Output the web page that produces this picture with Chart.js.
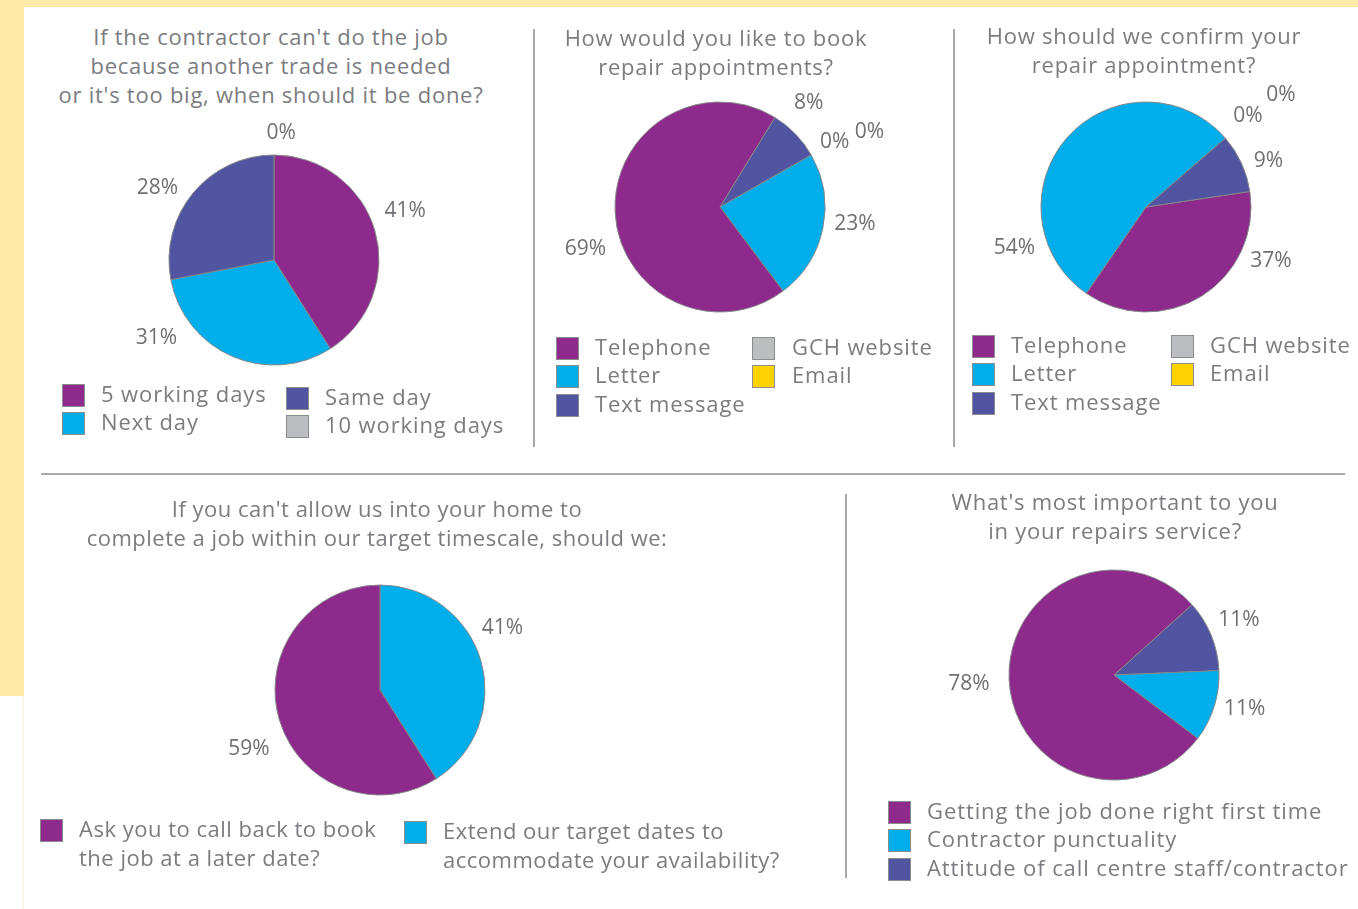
<!DOCTYPE html>
<html>
<head>
<meta charset="utf-8">
<script src="https://cdn.jsdelivr.net/npm/chart.js@4/dist/chart.umd.min.js"></script>
<style>
body { margin: 0; width: 1358px; height: 909px; position: relative; overflow: hidden; background: #fff; font-family: 'Open Sans', sans-serif; color: #7b7c7f; }
.band { position: absolute; background: #ffe9a6; }
.rule { position: absolute; background: #a9a9ab; }
.title { position: absolute; font-size: 22px; line-height: 29px; letter-spacing: 0.75px; text-align: center; white-space: nowrap; transform: translateX(-50%); }
.sw { position: absolute; width: 21px; height: 21px; border: 1px solid #8b8c8e; }
.lt { position: absolute; font-size: 22px; line-height: 29px; letter-spacing: 0.9px; white-space: nowrap; }
.narrow { letter-spacing: 0.5px; }
canvas { position: absolute; }
</style>
</head>
<body>
<div class="band" style="left:0;top:0;width:1358px;height:7px"></div>
<div class="band" style="left:0;top:0;width:24px;height:696px"></div>
<div class="band" style="left:23px;top:696px;width:1px;height:213px;opacity:0.6"></div>

<div class="rule" style="left:533px;top:29px;width:2px;height:418px"></div>
<div class="rule" style="left:953px;top:29px;width:2px;height:418px"></div>
<div class="rule" style="left:41px;top:473px;width:1304px;height:2px"></div>
<div class="rule" style="left:845px;top:494px;width:2px;height:384px"></div>

<canvas id="pieWhen" width="420" height="300"></canvas>
<canvas id="pieBook" width="420" height="300"></canvas>
<canvas id="pieConfirm" width="420" height="300"></canvas>
<canvas id="pieAccess" width="420" height="300"></canvas>
<canvas id="pieImportant" width="420" height="300"></canvas>

<script>
// Colours used across all five surveys
const purple = '#8e2a8b';
const cyan = '#00aeeb';
const violet = '#5154a0';
const grey = '#bcbdc0';
const yellow = '#ffd200';

// Q1 - another trade needed
const whenTitle = ["If the contractor can't do the job", 'because another trade is needed', "or it's too big, when should it be done?"];
const whenLabels = ['5 working days', 'Next day', 'Same day', '10 working days'];
const whenValues = [41, 31, 28, 0];

// Q2 - booking
const bookTitle = ['How would you like to book', 'repair appointments?'];
const bookLabels = ['Telephone', 'Letter', 'Text message', 'GCH website', 'Email'];
const bookValues = [69, 23, 8, 0, 0];

// Q3 - confirming
const confirmTitle = ['How should we confirm your', 'repair appointment?'];
const confirmLabels = ['Telephone', 'Letter', 'Text message', 'GCH website', 'Email'];
const confirmValues = [37, 54, 9, 0, 0];

// Q4 - no access
const accessTitle = ["If you can't allow us into your home to", 'complete a job within our target timescale, should we:'];
const accessLabels = [['Ask you to call back to book', 'the job at a later date?'], ['Extend our target dates to', 'accommodate your availability?']];
const accessValues = [59, 41];

// Q5 - priorities
const importantTitle = ["What's most important to you", 'in your repairs service?'];
const importantLabels = ['Getting the job done right first time', 'Contractor punctuality', 'Attitude of call centre staff/contractor'];
const importantValues = [78, 11, 11];

// Percentage labels placed round the pie (angle in degrees from 3 o'clock, distance from centre)
const pctLabels = {
	id: 'pctLabels',
	afterDatasetsDraw(chart, args, opts) {
		const ctx = chart.ctx;
		const meta = chart.getDatasetMeta(0);
		const values = chart.data.datasets[0].data;
		ctx.save();
		ctx.font = '21px "Open Sans", sans-serif';
		ctx.fillStyle = '#6f7073';
		ctx.textAlign = 'center';
		ctx.textBaseline = 'middle';
		meta.data.forEach((arc, i) => {
			const spot = opts.spots[i];
			const a = spot[0] * Math.PI / 180;
			ctx.fillText(values[i] + '%', arc.x + Math.cos(a) * spot[1], arc.y + Math.sin(a) * spot[1]);
		});
		ctx.restore();
	}
};

function makePie(id, cx, cy, labels, values, colors, spots, rotation, reversed) {
	const canvas = document.getElementById(id);
	canvas.style.left = (cx - canvas.width / 2) + 'px';
	canvas.style.top = (cy - canvas.height / 2) + 'px';

	let l = labels.slice(), v = values.slice(), c = colors.slice(), s = spots.slice();
	if (reversed) {
		l.reverse(); v.reverse(); c.reverse(); s.reverse();
	}

	new Chart(canvas, {
		type: 'pie',
		data: {
			labels: l.map((x) => Array.isArray(x) ? x.join(' ') : x),
			datasets: [
				{
					data: v,
					backgroundColor: c,
					borderColor: '#858689',
					borderWidth: 1,
					radius: 105
				}
			]
		},
		options: {
			responsive: false,
			animation: false,
			rotation: rotation,
			layout: { padding: 0 },
			plugins: {
				legend: { display: false },
				tooltip: { enabled: false },
				pctLabels: { spots: s }
			}
		},
		plugins: [ pctLabels ]
	});
}

function makeTitle(lines, cx, firstY, extraClass) {
	const div = document.createElement('div');
	div.className = 'title' + (extraClass ? ' ' + extraClass : '');
	div.style.left = cx + 'px';
	div.style.top = (firstY - 16.5) + 'px';
	div.innerHTML = lines.join('<br>');
	document.body.append(div);
}

// cols: [squareX, textX, firstRowY] per column, items fill down each column
function makeLegend(labels, colors, cols, perCol, rowH, extraClass) {
	for (var i = 0; i < labels.length; i++) {
		const col = cols[Math.floor(i / perCol)];
		const y = col[2] + (i % perCol) * rowH;
		const sw = document.createElement('div');
		const txt = document.createElement('div');
		sw.className = 'sw';
		sw.style.background = colors[i];
		sw.style.left = col[0] + 'px';
		sw.style.top = (y - 11.5) + 'px';
		txt.className = 'lt' + (extraClass ? ' ' + extraClass : '');
		txt.style.left = col[1] + 'px';
		txt.style.top = (y - 16.5) + 'px';
		txt.innerHTML = Array.isArray(labels[i]) ? labels[i].join('<br>') : labels[i];
		document.body.append(sw, txt);
	}
}

const fourColors = [purple, cyan, violet, grey];
const fiveColors = [purple, cyan, violet, grey, yellow];

makeTitle(whenTitle, 271, 38);
makePie('pieWhen', 274, 260, whenLabels, whenValues, fourColors,
	[[-20.5, 140], [146.5, 141], [-148.4, 137], [-86.8, 127]], 0, false);
makeLegend(whenLabels, fourColors, [[62, 101, 395.5], [286, 325, 398]], 2, 28);

makeTitle(bookTitle, 716, 39);
makePie('pieBook', 719.5, 207, bookLabels, bookValues, fiveColors,
	[[162.7, 141], [7.2, 136], [-49.6, 137], [-29.6, 132], [-26.6, 167]], 31.5, true);
makeLegend(bookLabels, fiveColors, [[556, 595, 348], [752, 792, 348]], 3, 28.5);

makeTitle(confirmTitle, 1144, 37);
makePie('pieConfirm', 1146, 206.5, confirmLabels, confirmValues, fiveColors,
	[[23.2, 136], [162.5, 138], [-20.4, 130.5], [-41.6, 136.4], [-39.7, 175.4]], 81.5, false);
makeLegend(confirmLabels, fiveColors, [[972, 1011, 346], [1171, 1210, 346]], 3, 28.5);

makeTitle(accessTitle, 377, 510, 'narrow');
makePie('pieAccess', 379.5, 690, accessLabels, accessValues, [purple, cyan],
	[[155.8, 143.7], [-27, 137.5]], 0, true);
makeLegend([accessLabels[0]], [purple], [[40, 79, 830]], 1, 29, 'narrow');
makeLegend([accessLabels[1]], [cyan], [[404, 443, 832.5]], 1, 29, 'narrow');

makeTitle(importantTitle, 1115, 503);
makePie('pieImportant', 1114, 674.5, importantLabels, importantValues, [purple, cyan, violet],
	[[176.3, 145.3], [14.7, 135], [-23.6, 136.4]], 48, true);
makeLegend(importantLabels, [purple, cyan, violet], [[888, 927, 812]], 3, 28.5);
</script>
</body>
</html>
